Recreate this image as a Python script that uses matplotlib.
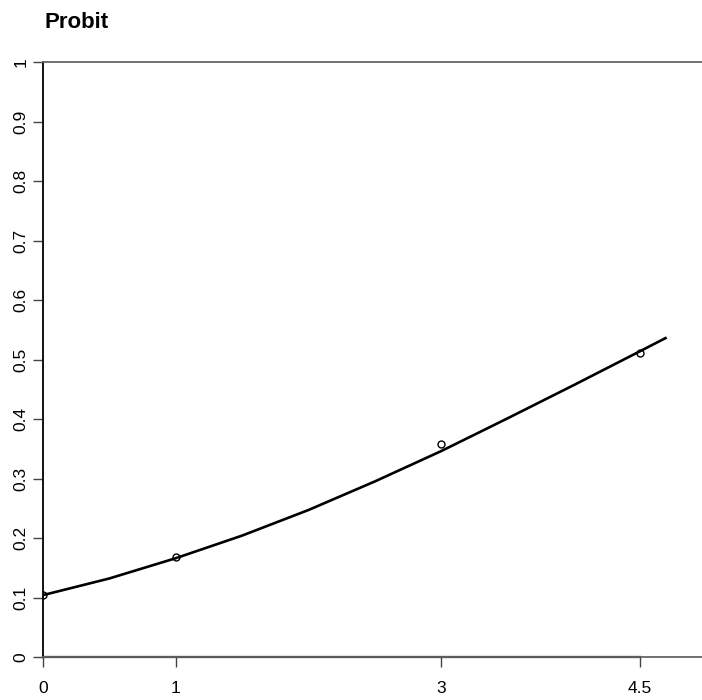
import matplotlib.pyplot as plt

plt.rcParams['font.family'] = ['Liberation Sans', 'DejaVu Sans']

# observed points
dose = [0, 1, 3, 4.5]
resp = [0.104, 0.168, 0.358, 0.511]

# fitted probit curve
fit_x = [0, 0.5, 1, 1.5, 2, 2.5, 3, 3.5, 4, 4.5, 4.7]
fit_y = [0.104, 0.132, 0.166, 0.204, 0.247, 0.295, 0.346, 0.401, 0.457, 0.514, 0.537]

xticks = [0, 1, 3, 4.5]
yticks = [0, 0.1, 0.2, 0.3, 0.4, 0.5, 0.6, 0.7, 0.8, 0.9, 1]
ylabels = ['0', '0.1', '0.2', '0.3', '0.4', '0.5', '0.6', '0.7', '0.8', '0.9', '1']

fig = plt.figure(figsize=(7.02, 7.0), dpi=100)
ax = fig.add_axes([43 / 702, 43 / 700, 5 * 132.7 / 702, 595 / 700])

ax.plot(fit_x, fit_y, color='black', lw=1.9, solid_capstyle='butt')
ax.plot(dose, resp, 'o', mfc='none', mec='black', ms=5, mew=1)

ax.set_xlim(0, 5)
ax.set_ylim(0, 1)
ax.set_xticks(xticks)
ax.set_xticklabels([str(t) for t in xticks])
ax.set_yticks(yticks)
ax.set_yticklabels(ylabels, rotation=90, va='center')

for s in ['top', 'bottom', 'right']:
    ax.spines[s].set_color('#666666')
    ax.spines[s].set_linewidth(1.3)
ax.spines['left'].set_color('black')
ax.spines['left'].set_linewidth(1.3)
# dark axis line along the tick range
ax.plot([0, 4.5], [0, 0], color='black', lw=1.6, clip_on=False)

ax.tick_params(axis='both', direction='out', length=7, width=1, color='#444444',
               labelsize=12.5, labelcolor='black')
ax.tick_params(axis='x', pad=10.5)
ax.tick_params(axis='y', pad=3.5)

fig.text(44 / 702, 1 - 22 / 700, 'Probit', fontsize=16, fontweight='bold',
         ha='left', va='center')

fig.savefig('out.png', dpi=100)
